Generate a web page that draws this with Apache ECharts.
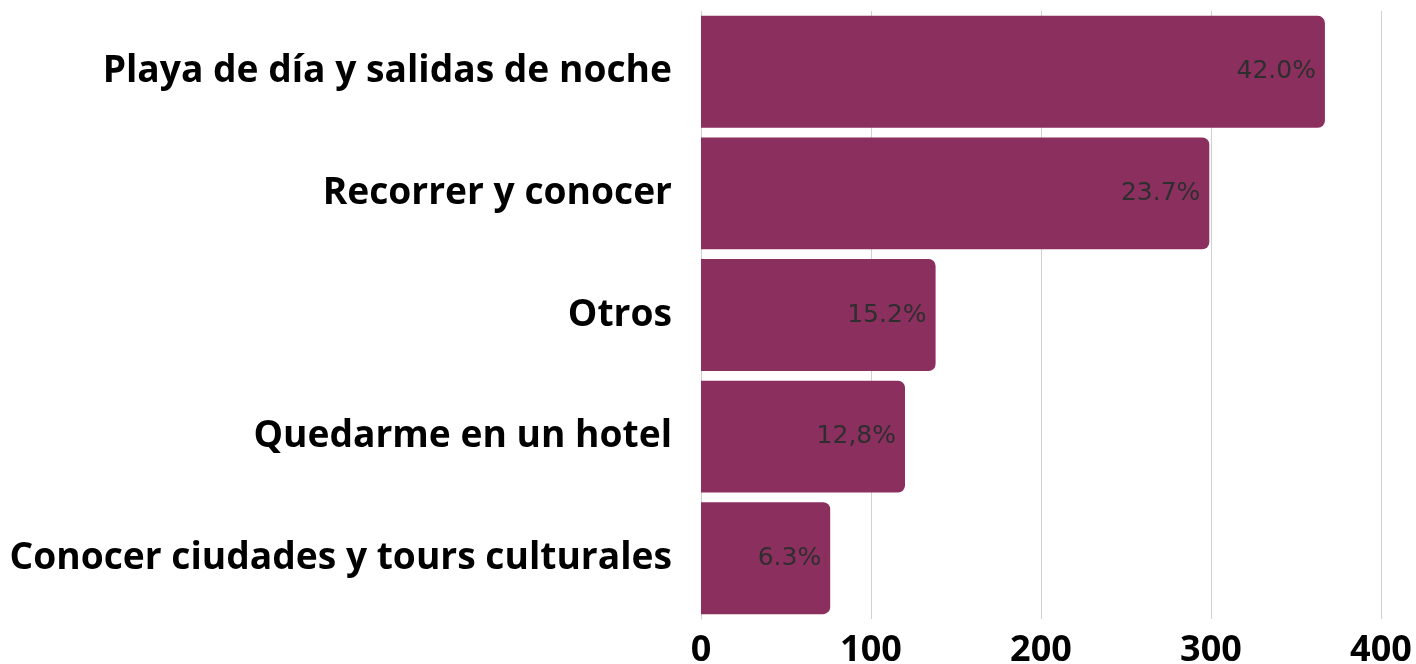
<!DOCTYPE html>
<html>
<head>
<meta charset="utf-8">
<script src="https://cdn.jsdelivr.net/npm/echarts@6/dist/echarts.min.js"></script>
<style>
  html, body { margin: 0; padding: 0; background: #fff; }
  #chart { width: 1416px; height: 664px; }
</style>
</head>
<body>
<div id="chart"></div>
<script>
// categories, bottom to top (as echarts draws a category y axis)
const categories = [
  'Conocer ciudades y tours culturales',
  'Quedarme en un hotel',
  'Otros',
  'Recorrer y conocer',
  'Playa de día y salidas de noche'
];
const values = [76, 120, 138, 299, 367];
const percentLabels = ['6.3%', '12,8%', '15.2%', '23.7%', '42.0%'];
const xTicks = [0, 100, 200, 300, 400];

const myChart = echarts.init(document.getElementById('chart'));

const option = {
  backgroundColor: '#fff',
  animation: false,
  grid: { left: 701, right: 35, top: 11, bottom: 45, outerBoundsMode: 'none', containLabel: false },
  xAxis: {
    type: 'value',
    min: xTicks[0],
    max: xTicks[xTicks.length - 1],
    interval: 100,
    axisLine: { show: false },
    axisTick: { show: false },
    splitLine: { show: true, lineStyle: { color: '#d0d0d0', width: 1 } },
    axisLabel: {
      color: '#000',
      fontFamily: 'Open Sans',
      fontWeight: 'bold',
      fontSize: 36,
      margin: 14
    }
  },
  yAxis: {
    type: 'category',
    data: categories,
    axisLine: { show: true, lineStyle: { color: '#d0d0d0' } },
    axisTick: { show: false },
    axisLabel: {
      color: '#000',
      fontFamily: 'Open Sans',
      fontWeight: 'bold',
      fontSize: 37.2,
      margin: 29
    }
  },
  series: [{
    type: 'bar',
    data: values,
    barCategoryGap: '8%',
    itemStyle: { color: '#8B2F5F', borderRadius: [0, 7, 7, 0] },
    label: {
      show: true,
      position: 'insideRight',
      distance: 9,
      color: '#2e2e2e',
      fontFamily: 'DejaVu Sans',
      fontSize: 25,
      formatter: p => percentLabels[p.dataIndex]
    }
  }]
};

option && myChart.setOption(option);
</script>
</body>
</html>
